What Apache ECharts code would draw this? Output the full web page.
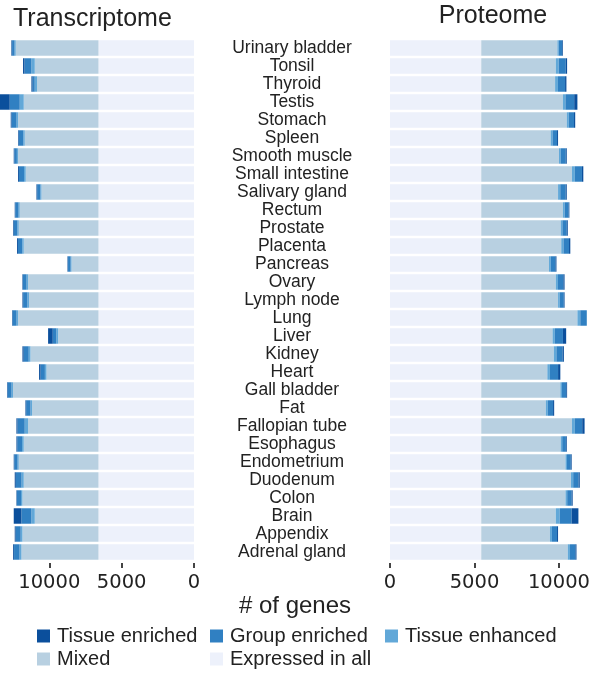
<!DOCTYPE html>
<html>
<head>
<meta charset="utf-8">
<script src="https://cdn.jsdelivr.net/npm/echarts@6/dist/echarts.min.js"></script>
<style>html,body{margin:0;padding:0;background:#fff;}#c{width:593px;height:674px;}</style>
</head>
<body>
<div id="c"></div>
<script>
const categories = ['Urinary bladder','Tonsil','Thyroid','Testis','Stomach','Spleen','Smooth muscle','Small intestine','Salivary gland','Rectum','Prostate','Placenta','Pancreas','Ovary','Lymph node','Lung','Liver','Kidney','Heart','Gall bladder','Fat','Fallopian tube','Esophagus','Endometrium','Duodenum','Colon','Brain','Appendix','Adrenal gland'];

const seriesNames = ['Expressed in all','Mixed','Tissue enhanced','Group enriched','Tissue enriched'];
const tickValues = [0, 5000, 10000];

// Transcriptome
const tExpressedInAll = [6600,6600,6600,6600,6600,6600,6600,6600,6600,6600,6600,6600,6600,6600,6600,6600,6600,6600,6600,6600,6600,6600,6600,6600,6600,6600,6600,6600,6600];
const tMixed = [5718,4403,4244,5164,5558,5095,5558,5026,3939,5441,5510,5164,1863,4867,4797,5558,2790,4700,3593,5905,4590,4867,5164,5510,5164,5254,4403,5254,5323];
const tEnhanced = [80,230,160,277,100,100,80,120,80,80,90,100,60,100,110,100,120,120,110,100,110,230,120,80,150,100,230,120,130];
const tGroup = [170,480,150,692,350,320,180,350,220,230,260,300,180,250,300,280,250,350,300,280,300,500,330,230,400,280,692,350,380];
const tEnriched = [50,100,80,1000,55,43,38,63,46,36,44,64,37,38,47,35,322,84,102,35,47,73,55,36,73,35,531,63,64];

// Proteome
const pExpressedInAll = [5400,5400,5400,5400,5400,5400,5400,5400,5400,5400,5400,5400,5400,5400,5400,5400,5400,5400,5400,5400,5400,5400,5400,5400,5400,5400,5400,5400,5400];
const pMixed = [4506,4410,4370,4830,5060,4105,4600,5370,4545,4830,4700,4735,4010,4410,4545,5690,4220,4295,3910,4680,3820,5370,4700,4985,5310,4985,4410,4065,5120];
const pEnhanced = [80,170,170,150,120,110,110,170,130,100,100,130,110,130,100,170,135,150,153,100,120,170,90,90,130,100,230,120,130];
const pGroup = [200,420,420,520,310,270,290,420,320,240,260,330,270,320,240,430,480,370,483,250,310,435,220,225,320,265,710,300,320];
const pEnriched = [44,80,80,190,70,60,60,80,65,45,60,75,60,70,45,100,190,75,134,50,65,140,50,50,70,60,400,60,65];

const colors = ['#edf1fb','#b8d0e1','#62a8d8','#3080c2','#0b4f9c'];

const FONT = 'Liberation Sans, Arial, sans-serif';

function makeSeries(stack, idx, arrays) {
  return arrays.map((arr, i) => ({
    name: seriesNames[i],
    type: 'bar',
    stack: stack,
    xAxisIndex: idx,
    yAxisIndex: idx,
    data: arr,
    barCategoryGap: '14%',
    itemStyle: { color: colors[i] },
    emphasis: { disabled: true },
    animation: false
  }));
}

function xAxisCfg(gridIndex, inverse, max) {
  return {
    type: 'value',
    gridIndex: gridIndex,
    inverse: inverse,
    min: 0,
    max: max,
    interval: 5000,
    offset: 2,
    axisLine: { show: false },
    splitLine: { show: false },
    axisTick: { show: true, length: 5, customValues: tickValues, lineStyle: { color: '#444', width: 2 } },
    axisLabel: {
      customValues: tickValues,
      margin: 10,
      formatter: v => String(v),
      fontFamily: 'DejaVu Sans, sans-serif',
      fontSize: 19.5,
      color: '#222'
    }
  };
}

const legendOrder = [
  { name: 'Tissue enriched', left: 37, top: 626 },
  { name: 'Group enriched', left: 210, top: 626 },
  { name: 'Tissue enhanced', left: 385, top: 626 },
  { name: 'Mixed', left: 37, top: 649 },
  { name: 'Expressed in all', left: 210, top: 649 }
];

const chart = echarts.init(document.getElementById('c'), null, { renderer: 'canvas' });
chart.setOption({
  animation: false,
  color: colors,
  grid: [
    { left: 0, right: 399, top: 39, height: 522, containLabel: false },
    { left: 390, right: 0, top: 39, height: 522, containLabel: false }
  ],
  xAxis: [xAxisCfg(0, true, 13405), xAxisCfg(1, false, 11646)],
  yAxis: [
    {
      type: 'category', gridIndex: 0, data: categories, inverse: true, position: 'right',
      axisLine: { show: false }, axisTick: { show: false },
      axisLabel: { align: 'center', margin: 98, fontFamily: FONT, fontSize: 17.5, color: '#222', interval: 0 }
    },
    {
      type: 'category', gridIndex: 1, data: categories, inverse: true,
      axisLine: { show: false }, axisTick: { show: false }, axisLabel: { show: false }
    }
  ],
  legend: legendOrder.map(l => ({
    data: [l.name],
    left: l.left,
    top: l.top,
    padding: 0,
    itemWidth: 13,
    itemHeight: 13,
    selectedMode: false,
    icon: 'rect',
    textStyle: { fontFamily: FONT, fontSize: 20, color: '#222', padding: [0, 0, 0, 2] }
  })),
  graphic: [
    { type: 'text', x: 13, y: 19, style: { text: 'Transcriptome', verticalAlign: 'middle', align: 'left', fontFamily: FONT, fontSize: 25, fill: '#222' } },
    { type: 'text', x: 493, y: 16, style: { text: 'Proteome', verticalAlign: 'middle', align: 'center', fontFamily: FONT, fontSize: 25, fill: '#222' } },
    { type: 'text', x: 295, y: 606, style: { text: '# of genes', verticalAlign: 'middle', align: 'center', fontFamily: FONT, fontSize: 24, fill: '#222' } }
  ],
  series: [
    ...makeSeries('T', 0, [tExpressedInAll, tMixed, tEnhanced, tGroup, tEnriched]),
    ...makeSeries('P', 1, [pExpressedInAll, pMixed, pEnhanced, pGroup, pEnriched])
  ]
});
</script>
</body>
</html>
